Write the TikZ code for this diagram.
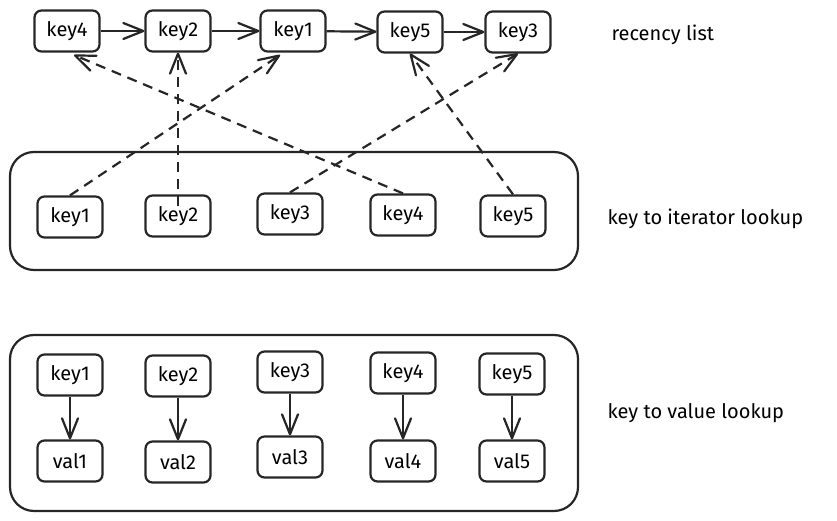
\documentclass[tikz,border=0pt]{standalone}
\usepackage{fontspec}
\setmainfont{Fira Sans}
\usetikzlibrary{arrows.meta}
\begin{document}
\begin{tikzpicture}[x=1pt,y=-1pt,
  kbox/.style={draw=black!85, line width=2.2pt, rounded corners=7pt, minimum width=65pt, minimum height=41pt, inner sep=0pt, font=\fontsize{20}{22}\selectfont},
  cont/.style={draw=black!85, line width=2.2pt, rounded corners=24pt},
  lbl/.style={anchor=west, font=\fontsize{20}{22}\selectfont},
  tipv/.tip={Straight Barb[length=20pt, width=16pt, line width=2.2pt, round]},
  solidarr/.style={draw=black!85, line width=2.2pt, -tipv},
  dasharr/.style={draw=black!85, line width=2.2pt, dash pattern=on 10pt off 7pt, -tipv}
]
\useasboundingbox (0,0) rectangle (837,521);
% recency list
\node[kbox] (r4) at (67,31) {key4};
\node[kbox] (r2) at (178,31) {key2};
\node[kbox] (r1) at (293,31) {key1};
\node[kbox] (r5) at (410,32) {key5};
\node[kbox] (r3) at (518,32) {key3};
\node[lbl] (lr) at (608,35) {recency list};
\draw[solidarr] (r4) -- (r2);
\draw[solidarr] (r2) -- (r1);
\draw[solidarr] (r1) -- (r5);
\draw[solidarr] (r5) -- (r3);
% iterator lookup
\node[cont, minimum width=568pt, minimum height=118pt] (c1) at (294,211) {};
\node[kbox] (i1) at (70,217) {key1};
\node[kbox] (i2) at (178,216) {key2};
\node[kbox] (i3) at (290,214) {key3};
\node[kbox] (i4) at (403,215) {key4};
\node[kbox] (i5) at (513,216) {key5};
\node[lbl] (li) at (604,219) {key to iterator lookup};
\coordinate (t1) at (280,55);
\coordinate (t4) at (74,55);
\draw[dasharr] (i1.north) -- (t1);
\draw[dasharr] (i2.north) ++(0,-12pt) coordinate (i2t) (i2t) -- (r2.south);
\draw[dasharr] (i3.north) -- (r3.south);
\draw[dasharr] (i4.north) -- (t4);
\draw[dasharr] (i5.north) -- (r5.south);
% value lookup
\node[cont, minimum width=568pt, minimum height=176pt] (c2) at (294,423) {};
\node[kbox] (k1) at (70,375) {key1};
\node[kbox] (k2) at (178,376) {key2};
\node[kbox] (k3) at (290,372) {key3};
\node[kbox] (k4) at (403,373) {key4};
\node[kbox] (k5) at (512,374) {key5};
\node[kbox] (v1) at (70,461) {val1};
\node[kbox] (v2) at (178,462) {val2};
\node[kbox] (v3) at (290,457) {val3};
\node[kbox] (v4) at (403,461) {val4};
\node[kbox] (v5) at (512,461) {val5};
\node[lbl] (lv) at (604,413) {key to value lookup};
\foreach \i in {1,...,5} {\draw[solidarr] (k\i) -- (v\i);}
\end{tikzpicture}
\end{document}
